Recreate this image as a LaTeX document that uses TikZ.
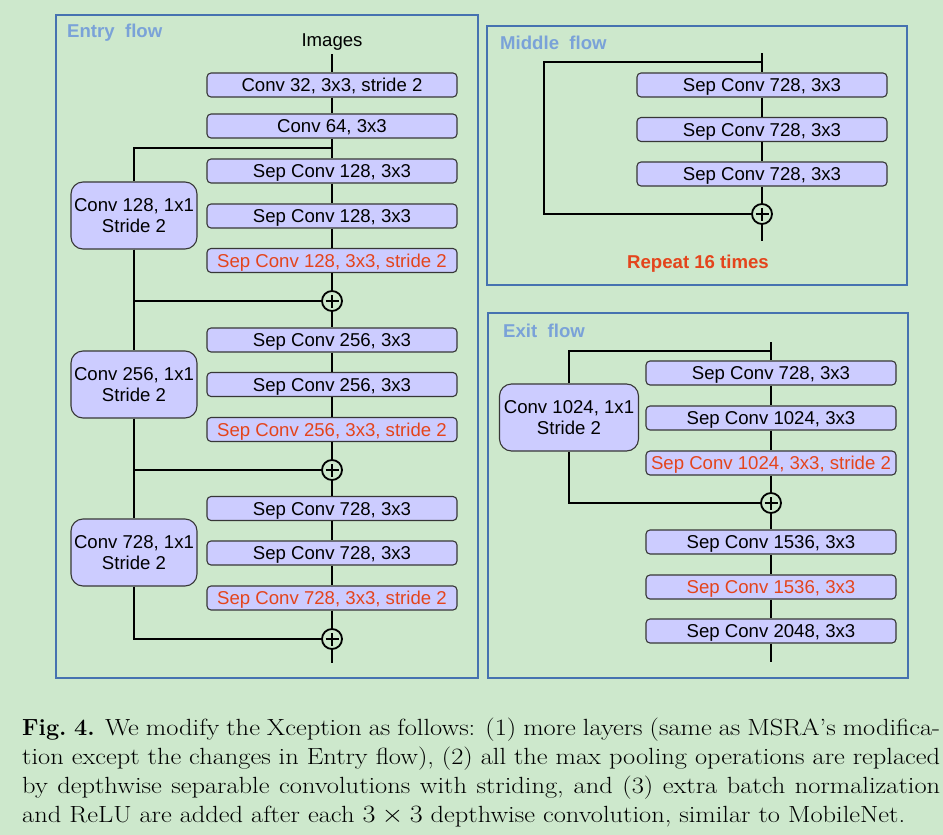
\documentclass[tikz,border=0pt]{standalone}
\usepackage{fontspec}
\usepackage{graphicx}
\newfontfamily\arial{Liberation Sans}
\newfontfamily\capfont{Latin Modern Roman}[FakeStretch=1.13, Ligatures=TeX]
\definecolor{bgc}{RGB}{205,232,204}
\definecolor{lav}{RGB}{204,204,255}
\definecolor{framec}{RGB}{70,114,176}
\definecolor{titlec}{RGB}{122,162,216}
\definecolor{redc}{RGB}{228,68,28}
\definecolor{edgec}{RGB}{55,55,55}
\tikzset{
  blk/.style={draw=edgec, line width=1.1pt, fill=lav, rounded corners=4pt,
    minimum width=250pt, minimum height=24pt, inner sep=0pt,
    text height=13.3pt, text depth=0pt,
    font=\arial\fontsize{18.6}{21}\selectfont},
  redblk/.style={blk, text=redc},
  sidebox/.style={draw=edgec, line width=1.1pt, fill=lav, rounded corners=12pt,
    minimum width=126pt, minimum height=67pt, inner sep=0pt, align=center,
    font=\arial\fontsize{18.6}{21}\selectfont},
  addnode/.style={circle, draw=black, line width=1.8pt, minimum size=20pt, inner sep=0pt,
    path picture={\draw[line width=1.6pt] (path picture bounding box.center) ++(-6.5pt,0) -- ++(13pt,0);
                  \draw[line width=1.6pt] (path picture bounding box.center) ++(0,-6.5pt) -- ++(0,13pt);}},
  conn/.style={draw=black, line width=1.9pt},
  frame/.style={draw=framec, line width=1.8pt},
  ttl/.style={anchor=base west, inner sep=0pt, text=titlec, font=\arial\bfseries\fontsize{18.6}{21}\selectfont},
}
\begin{document}
\begin{tikzpicture}[x=1pt,y=-1pt]
\useasboundingbox (0,0) rectangle (943,835);
\fill[bgc] (0,0) rectangle (943,835);

% ---------------- frames
\draw[frame] (56,15) rectangle (478,678);
\draw[frame] (487,26) rectangle (907,285);
\draw[frame] (488,313) rectangle (908,678);
\node[ttl] (tentry) at (67,37.5) {Entry~~flow};
\node[ttl] (tmid) at (500,49.3) {Middle~~flow};
\node[ttl] (texit) at (503,337.3) {Exit~~flow};

% ---------------- entry flow
\node[anchor=base, inner sep=3.5pt, font=\arial\fontsize{18.6}{21}\selectfont] (img) at (332,46.5) {Images};
\node[blk] (e1) at (332,85) {Conv 32, 3x3, stride 2};
\node[blk] (e2) at (332,126) {Conv 64, 3x3};
\node[blk] (e3) at (332,171) {Sep Conv 128, 3x3};
\node[blk] (e4) at (332,216) {Sep Conv 128, 3x3};
\node[redblk] (e5) at (332,260.5) {Sep Conv 128, 3x3, stride 2};
\node[addnode] (p1) at (332,301) {};
\node[blk] (e6) at (332,340) {Sep Conv 256, 3x3};
\node[blk] (e7) at (332,384.5) {Sep Conv 256, 3x3};
\node[redblk] (e8) at (332,429.5) {Sep Conv 256, 3x3, stride 2};
\node[addnode] (p2) at (332,470) {};
\node[blk] (e9) at (332,508.5) {Sep Conv 728, 3x3};
\node[blk] (e10) at (332,553) {Sep Conv 728, 3x3};
\node[redblk] (e11) at (332,598) {Sep Conv 728, 3x3, stride 2};
\node[addnode] (p3) at (332,639) {};
\coordinate (eend) at (332,663);
\coordinate (br1) at (332,148);

\node[sidebox] (c128) at (134,215.5) {Conv 128, 1x1\\Stride 2};
\node[sidebox] (c256) at (134,384.5) {Conv 256, 1x1\\Stride 2};
\node[sidebox] (c728) at (134,552.5) {Conv 728, 1x1\\Stride 2};

\draw[conn] (img.south) -- (e1.north);
\draw[conn] (e1) -- (e2);
\draw[conn] (e2) -- (e3);
\draw[conn] (e3) -- (e4);
\draw[conn] (e4) -- (e5);
\draw[conn] (e5) -- (p1);
\draw[conn] (p1) -- (e6);
\draw[conn] (e6) -- (e7);
\draw[conn] (e7) -- (e8);
\draw[conn] (e8) -- (p2);
\draw[conn] (p2) -- (e9);
\draw[conn] (e9) -- (e10);
\draw[conn] (e10) -- (e11);
\draw[conn] (e11) -- (p3);
\draw[conn] (p3) -- (eend);
\draw[conn] (br1) -| (c128.north);
\draw[conn] (c128.south) -- (c256.north);
\draw[conn] (c128.south) |- (p1.west);
\draw[conn] (c256.south) -- (c728.north);
\draw[conn] (c256.south) |- (p2.west);
\draw[conn] (c728.south) |- (p3.west);

% ---------------- middle flow
\coordinate (mtop) at (762,53);
\coordinate (mbr) at (762,62);
\coordinate (mleft) at (544,62);
\node[blk] (m1) at (762,85) {Sep Conv 728, 3x3};
\node[blk] (m2) at (762,129.5) {Sep Conv 728, 3x3};
\node[blk] (m3) at (762,174) {Sep Conv 728, 3x3};
\node[addnode] (mp) at (762,214) {};
\coordinate (mend) at (762,241);
\draw[conn] (mtop) -- (m1.north);
\draw[conn] (m1) -- (m2);
\draw[conn] (m2) -- (m3);
\draw[conn] (m3) -- (mp);
\draw[conn] (mp) -- (mend);
\draw[conn] (mbr) -- (mleft) |- (mp.west);
\node[anchor=base, inner sep=0pt, text=redc, font=\arial\bfseries\fontsize{18.6}{21}\selectfont] (rep) at (698,268) {Repeat 16 times};

% ---------------- exit flow
\coordinate (xtop) at (771,342);
\coordinate (xbr) at (771,351);
\node[blk] (x1) at (771,373) {Sep Conv 728, 3x3};
\node[blk] (x2) at (771,418) {Sep Conv 1024, 3x3};
\node[redblk] (x3) at (771,463) {Sep Conv 1024, 3x3, stride 2};
\node[addnode] (xp) at (771,503) {};
\node[blk] (x4) at (771,542) {Sep Conv 1536, 3x3};
\node[redblk] (x5) at (771,587) {Sep Conv 1536, 3x3};
\node[blk] (x6) at (771,631) {Sep Conv 2048, 3x3};
\coordinate (xend) at (771,662);
\node[sidebox, minimum width=139pt] (c1024) at (569,417.5) {Conv 1024, 1x1\\Stride 2};
\draw[conn] (xtop) -- (x1.north);
\draw[conn] (x1) -- (x2);
\draw[conn] (x2) -- (x3);
\draw[conn] (x3) -- (xp);
\draw[conn] (xp) -- (x4);
\draw[conn] (x4) -- (x5);
\draw[conn] (x5) -- (x6);
\draw[conn] (x6) -- (xend);
\draw[conn] (xbr) -| (c1024.north);
\draw[conn] (c1024.south) |- (xp.west);

% ---------------- caption
\node[anchor=north west, inner sep=0pt, text width=918pt, align=justify,
      font=\fontsize{23.4}{29.2}\selectfont\capfont] (cap) at (22,714.6)
 {\strut{\rmfamily\bfseries Fig.~4.} We modify the Xception as follows: (1) more layers (same as MSRA’s modifica-\linebreak
 tion except the changes in Entry flow), (2) all the max pooling operations are replaced\linebreak
 by depthwise separable convolutions with striding, and (3) extra batch normalization\linebreak
 and ReLU are added after each \scalebox{1.13}[1]{$3\times 3$} depthwise convolution, similar to MobileNet.};
\end{tikzpicture}
\end{document}
